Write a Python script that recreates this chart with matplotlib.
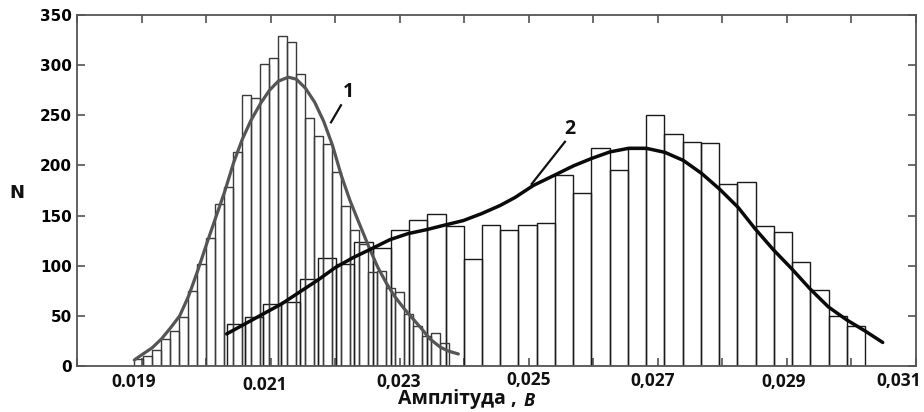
import matplotlib
matplotlib.use("Agg")
import matplotlib.pyplot as plt
import numpy as np
from matplotlib.transforms import ScaledTranslation

# ---------------- data ----------------
# histogram 1 (narrow bins)
h1_start = 0.0188878
h1_width = 0.00013945
h1_counts = [7, 10, 16, 27, 35, 49, 75, 102, 128, 162,
             178, 213, 270, 267, 301, 307, 329, 323, 291, 247,
             229, 221, 193, 160, 136, 122, 94, 95, 78, 74,
             52, 40, 30, 33, 23]

# histogram 2 (wide bins)
h2_start = 0.0203195
h2_width = 0.00028257
h2_counts = [42, 48.5, 62, 63.5, 87, 108, 102, 124, 118, 136,
             146, 152, 140, 107, 141, 136, 141, 143, 190, 173,
             217, 195, 218, 250, 231, 223, 222, 181, 183, 140,
             133.5, 103.5, 76, 50, 40]

# fitted curve 1
c1_x = [0.018888, 0.019023, 0.019162, 0.019309, 0.019449, 0.019591, 0.019731,
        0.019870, 0.020010, 0.020149, 0.020289, 0.020428, 0.020561, 0.020696,
        0.020846, 0.020983, 0.021119, 0.021274, 0.021398, 0.021540, 0.021683,
        0.021822, 0.021959, 0.022095, 0.022230, 0.022374, 0.022540, 0.022664,
        0.022799, 0.022927, 0.023071, 0.023206, 0.023315, 0.023469, 0.023624,
        0.023748, 0.023908]
c1_y = [6, 12, 18, 27, 38, 50, 70, 95, 122, 148, 174, 203, 226, 245, 262, 275,
        284, 288, 286, 277, 263, 244, 220, 190, 165, 142, 116, 98, 82, 69, 57,
        47, 39, 27, 19, 15, 12]

# fitted curve 2
c2_px = [226.7, 245, 263.3, 281.7, 300, 318.3, 335, 353, 371.7, 390, 408,
         426.7, 446.7, 463.3, 481.7, 500, 515, 533.3, 555, 573.3, 591.7, 610,
         628.3, 646.7, 665, 683.3, 701.7, 720, 738.3, 755, 773.3, 791.7, 810,
         828.3, 846.7, 865, 882.7]
c2_x = [round(0.018 + (p - 77) / 64540.0, 6) for p in c2_px]
c2_y = [32, 42, 52, 62, 74, 86, 98, 108, 117, 126, 132, 136, 141, 145, 152,
        160, 168, 180, 190.5, 199.5, 207, 213.5, 217, 217, 213, 205, 192, 176,
        158, 137, 116, 97, 77, 59, 46, 35, 23.5]

major_ticks = [0.018 + 0.001 * i for i in range(14)]
label_values = [0.019, 0.021, 0.023, 0.025, 0.027, 0.029, 0.031]
label_texts = ["0.019", "0.021", "0,023", "0,025", "0,027", "0,029", "0,031"]
y_ticks = [0, 50, 100, 150, 200, 250, 300, 350]

# ---------------- figure ----------------
W, H, DPI = 924, 412, 100
fig = plt.figure(figsize=(W / DPI, H / DPI), dpi=DPI)
ax = fig.add_axes([77 / W, 1 - 366 / H, (916 - 77) / W, (366 - 15) / H])

h1_edges = h1_start + h1_width * np.arange(len(h1_counts))
h2_edges = h2_start + h2_width * np.arange(len(h2_counts))

ax.bar(h2_edges, h2_counts, width=h2_width, align="edge", fill=False,
       edgecolor="#1a1a1a", linewidth=1.0, zorder=2)
ax.bar(h1_edges, h1_counts, width=h1_width, align="edge", fill=False,
       edgecolor="#3a3a3a", linewidth=1.0, zorder=2)

ax.plot(c1_x, c1_y, color="#555555", linewidth=2.3, zorder=3,
        solid_capstyle="round")
ax.plot(c2_x, c2_y, color="#0a0a0a", linewidth=2.5, zorder=4,
        solid_capstyle="round")

ax.set_xlim(0.018, 0.031)
ax.set_ylim(0, 350)

ax.set_xticks(major_ticks)
ax.set_xticklabels([])
ax.set_yticks(y_ticks)
ax.set_yticklabels([str(v) for v in y_ticks], fontfamily="DejaVu Sans",
                   fontweight="bold", fontsize=11)
ax.tick_params(direction="in", length=6, width=1.1, top=True, right=True,
               color="#444444", pad=3.5)
for sp in ax.spines.values():
    sp.set_color("#555555")
    sp.set_linewidth(1.3)

# x tick labels (hand placed as in the original)
offsets = [(-8, 16), (-6, 19), (-1, 16), (0, 14), (-5, 15), (-3, 16), (-17, 15)]
for v, t, (dx, dy) in zip(label_values, label_texts, offsets):
    tr = ax.get_xaxis_transform() + ScaledTranslation(dx / DPI, -dy / DPI,
                                                      fig.dpi_scale_trans)
    ax.text(v, 0, t, transform=tr, ha="center", va="center",
            fontfamily="Open Sans", fontweight="bold", fontsize=12.5,
            color="#111111")

# axis labels
fig.text(457 / W, 1 - 399 / H, "Амплітуда ,", ha="center", va="center",
         fontfamily="Open Sans", fontweight="bold", fontsize=14, color="#111111")
fig.text(529 / W, 1 - 401 / H, "В", ha="center", va="center",
         fontfamily="Open Sans", fontweight="bold", fontstyle="italic",
         fontsize=13, color="#111111")
fig.text(17 / W, 1 - 193 / H, "N", ha="center", va="center",
         fontfamily="DejaVu Sans", fontweight="bold", fontsize=13,
         color="#111111")

# curve annotations
ax.plot([0.021936, 0.022090], [243, 260], color="#111111", linewidth=1.6,
        zorder=5)
ax.text(0.022199, 273, "1", ha="center", va="center", fontfamily="Open Sans",
        fontweight="bold", fontsize=14, color="#111111")
ax.plot([0.025045, 0.025561], [181.5, 223.6], color="#111111", linewidth=1.6,
        zorder=5)
ax.text(0.025639, 236.5, "2", ha="center", va="center", fontfamily="Open Sans",
        fontweight="bold", fontsize=14, color="#111111")

fig.savefig("out.png", dpi=DPI)
